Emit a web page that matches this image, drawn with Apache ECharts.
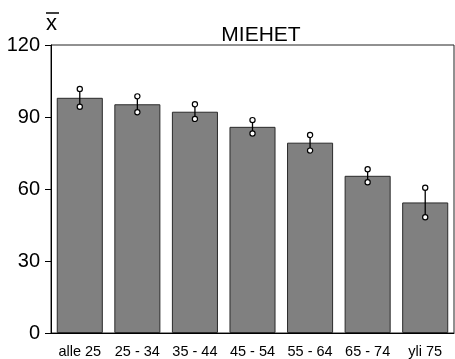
<!DOCTYPE html>
<html>
<head>
<meta charset="utf-8">
<script src="https://cdn.jsdelivr.net/npm/echarts@6/dist/echarts.min.js"></script>
<style>
  html, body { margin: 0; padding: 0; background: #fff; }
  #chart { width: 455px; height: 359px; }
</style>
</head>
<body>
<div id="chart"></div>
<script>
// Age groups and mean values (men)
var categories = ['alle 25', '25 - 34', '35 - 44', '45 - 54', '55 - 64', '65 - 74', 'yli 75'];
var means = [98.0, 95.3, 92.2, 85.9, 79.3, 65.5, 54.4];
// Confidence interval bounds around each mean
var lower = [94.3, 92.0, 89.2, 83.1, 76.0, 62.8, 48.2];
var upper = [101.7, 98.6, 95.3, 88.7, 82.5, 68.2, 60.5];
var yTicks = [0, 30, 60, 90, 120];

var FONT = 'Liberation Sans, Arial, Helvetica, sans-serif';

var chart = echarts.init(document.getElementById('chart'), null, { renderer: 'canvas' });

var intervalData = categories.map(function (c, i) { return [i, lower[i], upper[i]]; });

chart.setOption({
  animation: false,
  backgroundColor: '#ffffff',
  title: {
    text: 'MIEHET',
    left: 256, top: 20, textAlign: 'center',
    textStyle: { fontFamily: FONT, fontSize: 21, fontWeight: 'normal', color: '#000' }
  },
  graphic: [
    { type: 'text', left: 46, top: 13,
      style: { text: 'x', font: '22px ' + FONT, fill: '#000' } },
    { type: 'line', shape: { x1: 46, y1: 13, x2: 59, y2: 13 },
      style: { stroke: '#000', lineWidth: 1.5 } }
  ],
  grid: {
    left: 51, right: 1, top: 45, bottom: 26,
    show: true, borderColor: '#222', borderWidth: 1, backgroundColor: 'transparent'
  },
  xAxis: {
    type: 'category',
    data: categories,
    axisLine: { lineStyle: { color: '#000', width: 1 } },
    axisTick: { show: false },
    axisLabel: { fontFamily: FONT, fontSize: 14.5, color: '#000', margin: 11, interval: 0 }
  },
  yAxis: {
    type: 'value',
    min: yTicks[0], max: yTicks[yTicks.length - 1], interval: 30,
    axisLine: { show: true, lineStyle: { color: '#000', width: 1 } },
    axisTick: { show: true, inside: false, length: 6, lineStyle: { color: '#000' } },
    axisLabel: { fontFamily: FONT, fontSize: 20, color: '#000', margin: 11 },
    splitLine: { show: false }
  },
  series: [
    {
      type: 'bar',
      data: means,
      barCategoryGap: '20%',
      itemStyle: { color: '#808080', borderColor: '#2a2a2a', borderWidth: 1 },
      z: 2
    },
    {
      type: 'custom',
      data: intervalData,
      z: 5,
      renderItem: function (params, api) {
        var x = api.value(0);
        var lo = api.coord([x, api.value(1)]);
        var hi = api.coord([x, api.value(2)]);
        return {
          type: 'group',
          children: [
            { type: 'line', shape: { x1: lo[0], y1: lo[1], x2: hi[0], y2: hi[1] },
              style: { stroke: '#000', lineWidth: 1.3 } },
            { type: 'circle', shape: { cx: lo[0], cy: lo[1], r: 2.6 },
              style: { fill: '#fff', stroke: '#000', lineWidth: 1.2 } },
            { type: 'circle', shape: { cx: hi[0], cy: hi[1], r: 2.6 },
              style: { fill: '#fff', stroke: '#000', lineWidth: 1.2 } }
          ]
        };
      }
    }
  ]
});
</script>
</body>
</html>
